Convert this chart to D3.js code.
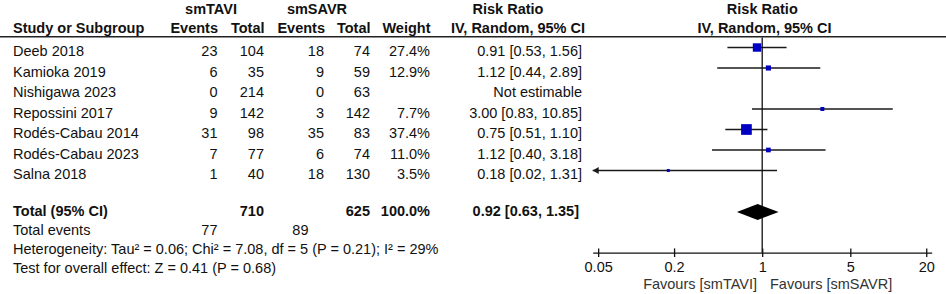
<!DOCTYPE html>
<html><head><meta charset="utf-8">
<script src="https://cdn.jsdelivr.net/npm/d3@7/dist/d3.min.js"></script>
<style>
html,body{margin:0;padding:0;background:#fff;}
svg{display:block;}
text{font-family:"Liberation Sans",Arial,sans-serif;font-size:14.5px;fill:#111;}
.b{font-weight:bold;}
</style></head>
<body>
<svg id="c" width="946" height="294"></svg>
<script>
const studies = ["Deeb 2018","Kamioka 2019","Nishigawa 2023","Repossini 2017","Rodés-Cabau 2014","Rodés-Cabau 2023","Salna 2018"];
const eventsTAVI = [23,6,0,9,31,7,1];
const totalTAVI  = [104,35,214,142,98,77,40];
const eventsSAVR = [18,9,0,3,35,6,18];
const totalSAVR  = [74,59,63,142,83,74,130];
const weights    = [27.4,12.9,null,7.7,37.4,11.0,3.5];
const rr         = [0.91,1.12,null,3.00,0.75,1.12,0.18];
const ciLow      = [0.53,0.44,null,0.83,0.51,0.40,0.02];
const ciHigh     = [1.56,2.89,null,10.85,1.10,3.18,1.31];
const pooled     = {rr:0.92, lo:0.63, hi:1.35};
const totals     = {tavi:710, savr:625, weight:"100.0%", evTavi:77, evSavr:89};
const heterogeneity = "Heterogeneity: Tau² = 0.06; Chi² = 7.08, df = 5 (P = 0.21); I² = 29%";
const overall = "Test for overall effect: Z = 0.41 (P = 0.68)";
const tickVals = [0.05,0.2,1,5,20];
const tickLabels = ["0.05","0.2","1","5","20"];
const axisLimit = 22.1;

const svg = d3.select("#c");
const fmt2 = d3.format(".2f");
const x = d3.scaleLog().domain([1/axisLimit, axisLimit]).range([592.7, 931.7]);
const rowY = d3.scaleLinear().domain([0,1]).range([47.5, 68]); // CI line y per row index
const size = d3.scaleLinear().domain([3.5,37.4]).range([3,10.7]);
const base = 8.7; // offset from line y to text baseline

function txt(s, xx, yy, anchor, cls, fill){
  const t = svg.append("text").attr("x",xx).attr("y",yy).attr("text-anchor",anchor||"start").text(s);
  if(cls) t.attr("class",cls);
  if(fill) t.style("fill",fill);
  return t;
}

// headers
txt("smTAVI",211,13.7,"middle","b");
txt("smSAVR",317,13.7,"middle","b");
txt("Risk Ratio",508,13.7,"middle","b");
txt("Risk Ratio",762.3,13.7,"middle","b");
txt("Study or Subgroup",13,32.7,"start","b");
txt("Events",218,32.7,"end","b");
txt("Total",264.5,32.7,"end","b");
txt("Events",325,32.7,"end","b");
txt("Total",370.5,32.7,"end","b");
txt("Weight",430.5,32.7,"end","b");
txt("IV, Random, 95% CI",585,32.7,"end","b");
txt("IV, Random, 95% CI",764.5,32.7,"middle","b");
svg.append("line").attr("x1",0).attr("x2",946).attr("y1",36.7).attr("y2",36.7)
  .attr("stroke","#222").attr("stroke-width",1.4);

// rows
studies.forEach((s,i)=>{
  const y = rowY(i);
  const ty = y + base;
  txt(s,13,ty);
  txt(eventsTAVI[i],217.5,ty,"end");
  txt(totalTAVI[i],264,ty,"end");
  txt(eventsSAVR[i],324,ty,"end");
  txt(totalSAVR[i],370,ty,"end");
  if(weights[i]!=null) txt(weights[i].toFixed(1)+"%",430,ty,"end");
  if(rr[i]==null){ txt("Not estimable",582,ty,"end"); return; }
  txt(fmt2(rr[i])+" ["+fmt2(ciLow[i])+", "+fmt2(ciHigh[i])+"]",582,ty,"end");
  const [d0,d1] = x.domain();
  const lo = Math.max(ciLow[i], d0), hi = Math.min(ciHigh[i], d1);
  svg.append("line").attr("x1",x(lo)).attr("x2",x(hi)).attr("y1",y).attr("y2",y)
    .attr("stroke","#1a1a1a").attr("stroke-width",1.3);
  if(ciLow[i] < d0){
    const ax = x(d0);
    svg.append("path").attr("d",`M${ax},${y}L${ax+6},${y-3.5}L${ax+6},${y+3.5}Z`).attr("fill","#1a1a1a");
  }
  if(ciHigh[i] > d1){
    const ax = x(d1);
    svg.append("path").attr("d",`M${ax},${y}L${ax-6},${y-3.5}L${ax-6},${y+3.5}Z`).attr("fill","#1a1a1a");
  }
  const sz = size(weights[i]);
  svg.append("rect").attr("x",x(rr[i])-sz/2).attr("y",y-sz/2).attr("width",sz).attr("height",sz)
    .attr("fill","#0000c4");
});

// totals
const totY = 212;
const totTY = 215.5;
txt("Total (95% CI)",13,totTY,"start","b");
txt(totals.tavi,264,totTY,"end","b");
txt(totals.savr,370,totTY,"end","b");
txt(totals.weight,430,totTY,"end","b");
txt(fmt2(pooled.rr)+" ["+fmt2(pooled.lo)+", "+fmt2(pooled.hi)+"]",579,totTY,"end","b");
txt("Total events",13,235.2);
txt(totals.evTavi,217.5,235.2,"end");
txt(totals.evSavr,308.5,235.2,"end");
txt(heterogeneity,13,254.2);
txt(overall,13,272.7);

// null line
const axisY = 252.7;
svg.append("line").attr("x1",x(1)).attr("x2",x(1)).attr("y1",37.5).attr("y2",axisY)
  .attr("stroke","#111").attr("stroke-width",1.3);

// diamond
svg.append("path").attr("d",`M${x(pooled.lo)},${totY}L${x(pooled.rr)},${totY-8}L${x(pooled.hi)},${totY}L${x(pooled.rr)},${totY+8}Z`)
  .attr("fill","#000");

// axis
const axis = d3.axisBottom(x).tickValues(tickVals).tickFormat((d,i)=>tickLabels[i]).tickSizeOuter(0).tickSizeInner(4).tickPadding(5);
const g = svg.append("g").attr("transform",`translate(0,${axisY})`).call(axis);
g.select(".domain").attr("stroke","#111").attr("stroke-width",1.3);
g.selectAll(".tick line").attr("y1",-4.3).attr("y2",4.3).attr("stroke","#111").attr("stroke-width",1.3);
g.selectAll(".tick text").style("font-family","\"Liberation Sans\",Arial,sans-serif").style("font-size","14.5px").style("fill","#111");

txt("Favours [smTAVI]",757,288.5,"end",null,"#333");
txt("Favours [smSAVR]",770,288.5,"start",null,"#333");
</script>
</body></html>
